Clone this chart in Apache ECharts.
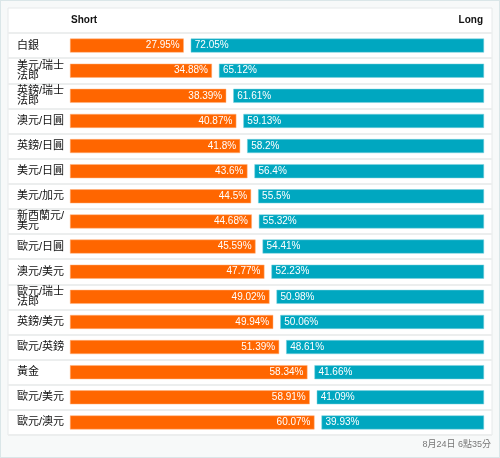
<!DOCTYPE html>
<html>
<head>
<meta charset="utf-8">
<script src="https://cdn.jsdelivr.net/npm/echarts@6/dist/echarts.min.js"></script>
<style>
html,body{margin:0;padding:0;background:#f7f9f9;}
#wrap{position:absolute;left:0;top:0;width:498px;height:456px;border:1px solid #dae6e8;background:#f7f9f9;}
#chart{position:absolute;left:0;top:0;width:500px;height:458px;}
</style>
</head>
<body>
<div id="wrap"></div>
<div id="chart"></div>
<script>
const categories = ['白銀','美元/瑞士法郎','英鎊/瑞士法郎','澳元/日圓','英鎊/日圓','美元/日圓','美元/加元','新西蘭元/美元','歐元/日圓','澳元/美元','歐元/瑞士法郎','英鎊/美元','歐元/英鎊','黃金','歐元/美元','歐元/澳元'];
const shortValues = [27.95,34.88,38.39,40.87,41.8,43.6,44.5,44.68,45.59,47.77,49.02,49.94,51.39,58.34,58.91,60.07];
const longValues = [72.05,65.12,61.61,59.13,58.2,56.4,55.5,55.32,54.41,52.23,50.98,50.06,48.61,41.66,41.09,39.93];
const headerLabels = ['Short','Long'];
const footerText = '8月24日 6點35分';

const chart = echarts.init(document.getElementById('chart'), null, {renderer:'canvas'});
const axisMax = 101.72;
const fontFam = '"Liberation Sans", Arial, "Noto Sans CJK TC", sans-serif';
chart.setOption({
  animation:false,
  backgroundColor:'transparent',
  graphic:[{type:'rect', shape:{x:8,y:8,width:484,height:427}, style:{fill:'#fff', stroke:'#e6e9ea', lineWidth:1}, z:-1}],
  title:[
    {text:headerLabels[0], left:71, top:15, padding:0, textStyle:{fontSize:10, fontWeight:'bold', color:'#111', fontFamily:fontFam}},
    {text:headerLabels[1], right:17, top:15, padding:0, textStyle:{fontSize:10, fontWeight:'bold', color:'#111', fontFamily:fontFam}},
    {text:footerText, right:9, top:440, padding:0, textStyle:{fontSize:9, fontWeight:'normal', color:'#777', fontFamily:fontFam}}
  ],
  grid:[
    {left:8, right:8, top:33, bottom:23},
    {left:70, right:16, top:33, bottom:23}
  ],
  xAxis:[
    {gridIndex:0, type:'value', show:false, min:0, max:100},
    {gridIndex:1, type:'value', show:false, min:0, max:axisMax},
    {gridIndex:1, type:'value', show:false, min:0, max:axisMax, inverse:true}
  ],
  yAxis:[
    {gridIndex:0, type:'category', data:categories, inverse:true, axisLine:{show:false}, axisTick:{show:false}, axisLabel:{show:false},
     splitLine:{show:true, lineStyle:{color:'#eceeee', width:2}}},
    {gridIndex:1, type:'category', data:categories, inverse:true, axisLine:{show:false}, axisTick:{show:false}, splitLine:{show:false},
     axisLabel:{align:'left', margin:53, width:48, overflow:'break', lineHeight:10, fontSize:11, color:'#111', fontFamily:fontFam}}
  ],
  series:[
    {type:'bar', name:'Short', xAxisIndex:1, yAxisIndex:1, data:shortValues, barWidth:14, barGap:'-100%',
     itemStyle:{color:'#ff6600', borderColor:'#ffb27f', borderWidth:0.5},
     label:{show:true, position:'insideRight', formatter:'{c}%', color:'#fff', fontSize:10, fontFamily:fontFam, distance:4}},
    {type:'bar', name:'Long', xAxisIndex:2, yAxisIndex:1, data:longValues, barWidth:14, barGap:'-100%',
     itemStyle:{color:'#00a7c0', borderColor:'#7fd3df', borderWidth:0.5},
     label:{show:true, position:'insideLeft', formatter:'{c}%', color:'#fff', fontSize:10, fontFamily:fontFam, distance:4}}
  ]
});
</script>
</body>
</html>
